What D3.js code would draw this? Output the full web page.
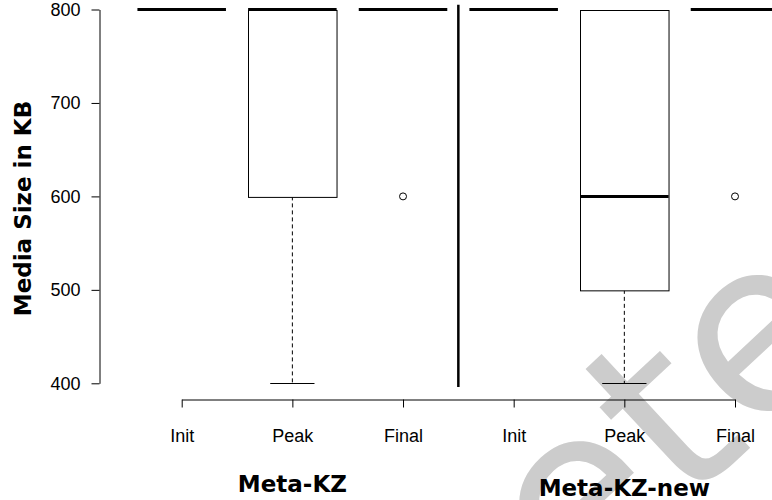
<!DOCTYPE html>
<html>
<head>
<meta charset="utf-8">
<script src="https://cdn.jsdelivr.net/npm/d3@7/dist/d3.min.js"></script>
<style>
  html, body { margin: 0; padding: 0; background: #ffffff; }
  svg { display: block; }
</style>
</head>
<body>
<svg id="chart" width="772" height="500"></svg>
<script>
// Box plot statistics per condition, left to right
const categories   = ["Init", "Peak", "Final", "Init", "Peak", "Final"];
const groups       = ["Meta-KZ", "Meta-KZ-new"];
const groupCenter  = [1, 4];            // index of the category under each group label
const lowerWhisker = [800, 400, 800, 800, 400, 800];
const q1           = [800, 600, 800, 800, 500, 800];
const median       = [800, 800, 800, 800, 600, 800];
const q3           = [800, 800, 800, 800, 800, 800];
const upperWhisker = [800, 800, 800, 800, 800, 800];
const outliers     = [[], [], [600], [], [], [600]];
const yTicks       = [400, 500, 600, 700, 800];
const separator    = { at: 2.5, from: 805, to: 396 };

const svg = d3.select("#chart");

const x = d3.scaleLinear().domain([0, categories.length - 1]).range([181.7, 735]);
const y = d3.scaleLinear().domain([400, 800]).range([383.3, 9.5]);
const step = x(1) - x(0);
const halfBox = step * 0.4;
const halfCap = halfBox / 2;

// faint background lettering
svg.append("text")
  .attr("transform", "translate(576,610) rotate(-43)")
  .attr("font-family", "DejaVu Sans")
  .attr("font-size", 242)
  .attr("fill", "#cccccc")
  .text("ete");

const data = categories.map((c, i) => ({
  i, c, lo: lowerWhisker[i], q1: q1[i], med: median[i], q3: q3[i], hi: upperWhisker[i], out: outliers[i]
}));

const boxes = svg.append("g").attr("class", "boxes");

const b = boxes.selectAll("g").data(data).join("g");

// whiskers (dashed) and caps
b.filter(d => d.lo < d.q1).append("line")
  .attr("x1", d => x(d.i)).attr("x2", d => x(d.i))
  .attr("y1", d => y(d.q1)).attr("y2", d => y(d.lo))
  .attr("stroke", "#000").attr("stroke-width", 1).attr("stroke-dasharray", "4,3");
b.filter(d => d.hi > d.q3).append("line")
  .attr("x1", d => x(d.i)).attr("x2", d => x(d.i))
  .attr("y1", d => y(d.q3)).attr("y2", d => y(d.hi))
  .attr("stroke", "#000").attr("stroke-width", 1).attr("stroke-dasharray", "4,3");
b.append("line")
  .attr("x1", d => x(d.i) - halfCap).attr("x2", d => x(d.i) + halfCap)
  .attr("y1", d => Math.round(y(d.lo)) + 0.5).attr("y2", d => Math.round(y(d.lo)) + 0.5)
  .attr("stroke", "#000").attr("stroke-width", 1);

// box
b.append("rect")
  .attr("x", d => Math.round(x(d.i) - halfBox) + 0.5)
  .attr("width", halfBox * 2)
  .attr("y", d => Math.round(y(d.q3)) + 0.5)
  .attr("height", d => y(d.q1) - y(d.q3))
  .attr("fill", "#fff").attr("stroke", "#000").attr("stroke-width", 1);

// median
b.append("line")
  .attr("x1", d => x(d.i) - halfBox).attr("x2", d => x(d.i) + halfBox)
  .attr("y1", d => y(d.med)).attr("y2", d => y(d.med))
  .attr("stroke", "#000").attr("stroke-width", 3);

// outliers
b.selectAll("circle").data(d => d.out.map(v => ({ i: d.i, v }))).join("circle")
  .attr("cx", d => x(d.i)).attr("cy", d => y(d.v)).attr("r", 3.5)
  .attr("fill", "none").attr("stroke", "#000").attr("stroke-width", 1);

// group separator
svg.append("line")
  .attr("x1", x(separator.at)).attr("x2", x(separator.at))
  .attr("y1", y(separator.from)).attr("y2", y(separator.to))
  .attr("stroke", "#000").attr("stroke-width", 2.5);

// y axis
const yAxis = svg.append("g")
  .attr("transform", "translate(99.5,0)")
  .call(d3.axisLeft(y).tickValues(yTicks).tickSize(8).tickSizeOuter(0).tickPadding(11));
yAxis.selectAll("text").attr("font-family", "Liberation Sans, Arial, sans-serif").attr("font-size", 18).attr("fill", "#000");
yAxis.selectAll("line, path").attr("stroke", "#000");

// x axis
const xAxis = svg.append("g")
  .attr("transform", "translate(0,399.5)")
  .call(d3.axisBottom(x).tickValues(d3.range(categories.length)).tickFormat(i => categories[i])
    .tickSize(8).tickSizeOuter(0).tickPadding(22));
xAxis.selectAll("text").attr("font-family", "Liberation Sans, Arial, sans-serif").attr("font-size", 18).attr("fill", "#000");
xAxis.selectAll("line, path").attr("stroke", "#000");

// group labels
const groupBaseline = [492, 496];
svg.selectAll("text.group").data(groups).join("text")
  .attr("class", "group")
  .attr("x", (g, k) => x(groupCenter[k]))
  .attr("y", (g, k) => groupBaseline[k])
  .attr("text-anchor", "middle")
  .attr("font-family", "DejaVu Sans")
  .attr("font-weight", "bold")
  .attr("font-size", 23)
  .attr("fill", "#000")
  .text(g => g);

// y axis title
svg.append("text")
  .attr("transform", "translate(31,208.5) rotate(-90)")
  .attr("text-anchor", "middle")
  .attr("font-family", "DejaVu Sans")
  .attr("font-weight", "bold")
  .attr("font-size", 23)
  .attr("fill", "#000")
  .text("Media Size in KB");
</script>
</body>
</html>
